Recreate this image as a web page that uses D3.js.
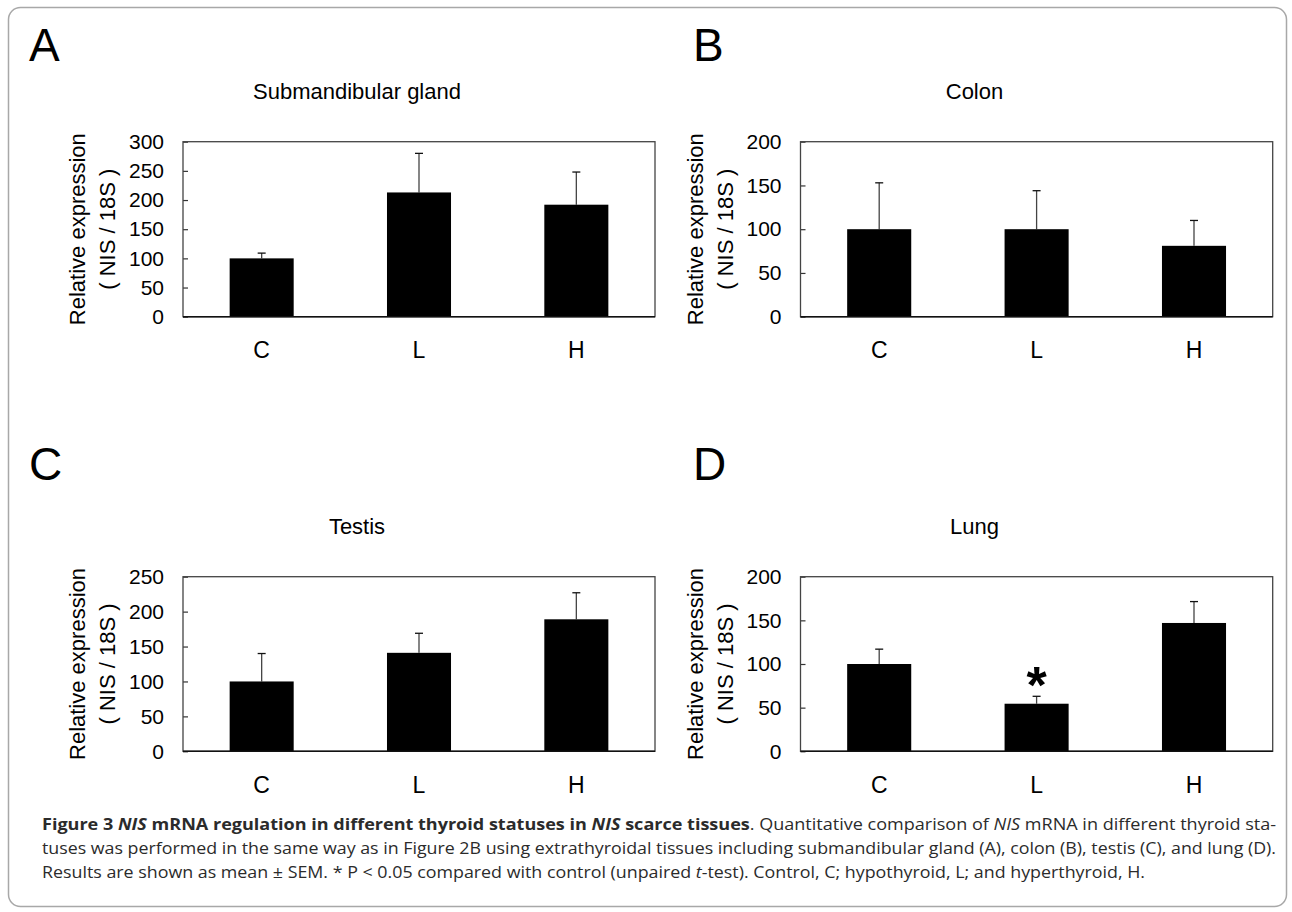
<!DOCTYPE html>
<html>
<head>
<meta charset="utf-8">
<script src="https://cdn.jsdelivr.net/npm/d3@7"></script>
<style>
  html, body { margin: 0; padding: 0; background: #fff; }
  svg text { font-family: "Liberation Sans", Arial, sans-serif; fill: #000; }
  .caption text { font-family: "Open Sans", sans-serif; fill: #2b2b2b; }
</style>
</head>
<body>
<svg id="fig" width="1292" height="912"></svg>
<script>
const CATEGORIES    = ['C', 'L', 'H'];
const PANEL_LETTERS = ['A', 'B', 'C', 'D'];
const PANEL_TITLES  = ['Submandibular gland', 'Colon', 'Testis', 'Lung'];
const Y_MAX         = [300, 200, 250, 200];
const Y_STEP        = 50;
const Y_LABEL_1     = 'Relative expression';
const Y_LABEL_2     = '( NIS / 18S )';

// mean and SEM
const MEAN_A = [100, 213, 192];
const SEM_A  = [9, 67, 56];
const MEAN_B = [100, 100, 81];
const SEM_B  = [53, 44, 29];
const MEAN_C = [100, 141, 189];
const SEM_C  = [40, 28, 38];
const MEAN_D = [100, 54.5, 147];
const SEM_D  = [17, 8.5, 24.5];
const SIG_D  = [false, true, false];

const MEANS = [MEAN_A, MEAN_B, MEAN_C, MEAN_D];
const SEMS  = [SEM_A, SEM_B, SEM_C, SEM_D];
const SIGS  = [null, null, null, SIG_D];

const CAPTION = [
  [['Figure 3 ', 'b'], ['NIS', 'bi'], [' mRNA regulation in different thyroid statuses in ', 'b'],
   ['NIS', 'bi'], [' scarce tissues', 'b'], ['. Quantitative comparison of ', ''], ['NIS', 'i'],
   [' mRNA in different thyroid sta-', '']],
  [['tuses was performed in the same way as in Figure 2B using extrathyroidal tissues including submandibular gland (A), colon (B), testis (C), and lung (D).', '']],
  [['Results are shown as mean \u00b1 SEM. * P < 0.05 compared with control (unpaired ', ''], ['t', 'i'],
   ['-test). Control, C; hypothyroid, L; and hyperthyroid, H.', '']]
];

// layout
const PANEL_BOX = [
  { x0: 183,   x1: 655,    y0: 141.7, y1: 316.7, lx: 29,  ly: 61  },
  { x0: 800.5, x1: 1272.7, y0: 141.7, y1: 316.7, lx: 693, ly: 61  },
  { x0: 183,   x1: 655,    y0: 576.7, y1: 751.3, lx: 29,  ly: 480 },
  { x0: 800.5, x1: 1272.7, y0: 576.7, y1: 751.3, lx: 693, ly: 480 }
];
const CAP_X   = 42;
const CAP_Y   = [830, 854, 878];
const CAP_LEN = [1234, 1234, 1103];

const svg = d3.select('#fig');

svg.append('rect')
  .attr('x', 8.5).attr('y', 7.5)
  .attr('width', 1278).attr('height', 899)
  .attr('rx', 12).attr('ry', 12)
  .attr('fill', 'none')
  .attr('stroke', '#a8a8a8')
  .attr('stroke-width', 1.5);

PANEL_BOX.forEach((b, i) => drawPanel(i, b));

function drawPanel(i, b) {
  const g = svg.append('g');

  const x = d3.scaleBand()
    .domain(CATEGORIES)
    .range([b.x0, b.x1])
    .paddingInner(0.593)
    .paddingOuter(0.2965);

  const y = d3.scaleLinear()
    .domain([0, Y_MAX[i]])
    .range([b.y1, b.y0]);

  g.append('text')
    .attr('x', b.lx).attr('y', b.ly)
    .attr('font-size', 46)
    .text(PANEL_LETTERS[i]);

  g.append('text')
    .attr('x', b.x0 + 174).attr('y', b.y0 - 43)
    .attr('text-anchor', 'middle')
    .attr('font-size', 22)
    .text(PANEL_TITLES[i]);

  const yc = (b.y0 + b.y1) / 2;
  g.append('text')
    .attr('transform', `translate(${b.x0 - 98},${yc}) rotate(-90)`)
    .attr('text-anchor', 'middle')
    .attr('font-size', 22)
    .text(Y_LABEL_1);
  g.append('text')
    .attr('transform', `translate(${b.x0 - 68},${yc}) rotate(-90)`)
    .attr('text-anchor', 'middle')
    .attr('font-size', 22)
    .text(Y_LABEL_2);

  const ticks = d3.range(0, Y_MAX[i] + 1, Y_STEP);
  const yAxis = g.append('g')
    .attr('transform', `translate(${b.x0},0)`)
    .call(d3.axisLeft(y).tickValues(ticks).tickSizeInner(-5).tickSizeOuter(0).tickPadding(19).tickFormat(d3.format('d')));
  yAxis.select('.domain').remove();
  yAxis.attr('font-family', null).attr('font-size', null);
  yAxis.selectAll('line').attr('stroke', '#333').attr('stroke-width', 1.2);
  yAxis.selectAll('text').attr('font-size', 21).attr('fill', '#000');

  const xAxis = g.append('g')
    .attr('transform', `translate(0,${b.y1})`)
    .call(d3.axisBottom(x).tickSize(0).tickPadding(25));
  xAxis.select('.domain').remove();
  xAxis.attr('font-family', null).attr('font-size', null);
  xAxis.selectAll('text').attr('font-size', 23).attr('fill', '#000');

  // plot box
  g.append('rect')
    .attr('x', b.x0).attr('y', b.y0)
    .attr('width', b.x1 - b.x0).attr('height', b.y1 - b.y0)
    .attr('fill', 'none')
    .attr('stroke', '#444')
    .attr('stroke-width', 1.3);

  const rows = CATEGORIES.map((c, k) => ({ cat: c, mean: MEANS[i][k], sem: SEMS[i][k], sig: SIGS[i] ? SIGS[i][k] : false }));

  // error bars (upper only)
  const eb = g.append('g').attr('stroke', '#444').attr('stroke-width', 1.3);
  eb.selectAll('line.stem').data(rows).enter().append('line')
    .attr('class', 'stem')
    .attr('x1', d => x(d.cat) + x.bandwidth() / 2)
    .attr('x2', d => x(d.cat) + x.bandwidth() / 2)
    .attr('y1', d => y(d.mean))
    .attr('y2', d => y(d.mean + d.sem));
  eb.selectAll('line.cap').data(rows).enter().append('line')
    .attr('class', 'cap')
    .attr('stroke', '#111')
    .attr('x1', d => x(d.cat) + x.bandwidth() / 2 - 4)
    .attr('x2', d => x(d.cat) + x.bandwidth() / 2 + 4)
    .attr('y1', d => y(d.mean + d.sem))
    .attr('y2', d => y(d.mean + d.sem));

  g.selectAll('rect.bar').data(rows).enter().append('rect')
    .attr('class', 'bar')
    .attr('x', d => x(d.cat))
    .attr('y', d => y(d.mean))
    .attr('width', x.bandwidth())
    .attr('height', d => y(0) - y(d.mean))
    .attr('fill', '#000');

  g.append('line')
    .attr('x1', b.x0).attr('x2', b.x1)
    .attr('y1', b.y1).attr('y2', b.y1)
    .attr('stroke', '#111')
    .attr('stroke-width', 1.6);

  g.selectAll('text.sig').data(rows.filter(d => d.sig)).enter().append('text')
    .attr('class', 'sig')
    .attr('x', d => x(d.cat) + x.bandwidth() / 2)
    .attr('y', d => y(d.mean + d.sem) - 23 + 0.58 * 52)
    .attr('text-anchor', 'middle')
    .attr('font-size', 52)
    .attr('font-weight', 'bold')
    .text('*');
}

const cap = svg.append('g').attr('class', 'caption');
CAPTION.forEach((line, li) => {
  const t = cap.append('text')
    .attr('x', CAP_X).attr('y', CAP_Y[li])
    .attr('font-size', 16)
    .attr('textLength', CAP_LEN[li])
    .attr('lengthAdjust', 'spacingAndGlyphs');
  line.forEach(([s, st]) => {
    t.append('tspan')
      .attr('font-weight', st.includes('b') ? 'bold' : 'normal')
      .attr('font-style', st.includes('i') ? 'italic' : 'normal')
      .text(s);
  });
});
</script>
</body>
</html>
